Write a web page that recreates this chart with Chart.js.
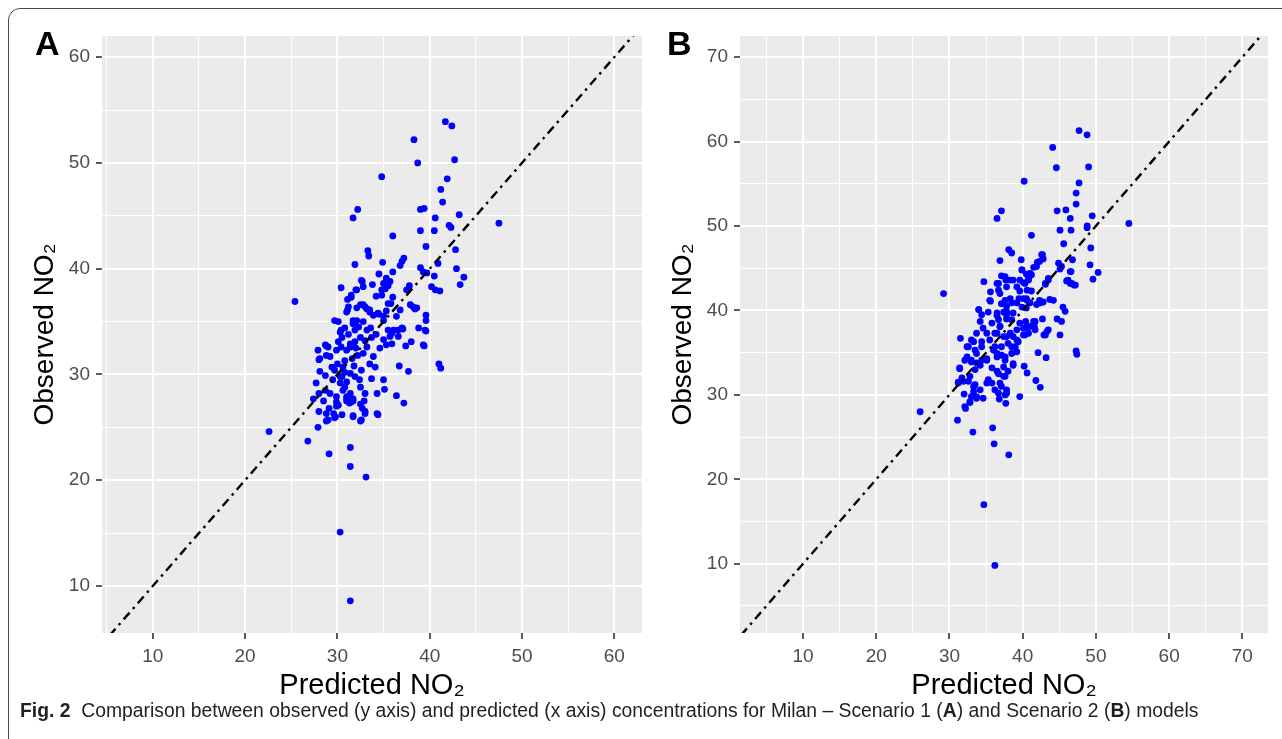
<!DOCTYPE html>
<html>
<head>
<meta charset="utf-8">
<script src="https://cdn.jsdelivr.net/npm/chart.js@4.4.1/dist/chart.umd.min.js"></script>
<style>
  body { margin:0; background:#fff; width:1282px; height:739px; overflow:hidden; position:relative; font-family:"Liberation Sans", Arial, sans-serif; }
  #frame { position:absolute; left:8px; top:8px; width:1300px; height:800px; border:1.5px solid #4a4a4a; border-radius:12px; }
  canvas { position:absolute; top:0; }
  #cA { left:0; }
  #cB { left:640px; }
  .panel { position:absolute; top:26px; font-weight:bold; font-size:34px; line-height:1; color:#000; }
  #caption { position:absolute; left:20px; top:700px; font-family:"Liberation Sans Narrow", "Liberation Sans", sans-serif; font-size:20px; line-height:1; color:#231f20; white-space:nowrap; transform-origin:0 0; }
</style>
</head>
<body>
<div id="frame"></div>
<canvas id="cA" width="650" height="703"></canvas>
<canvas id="cB" width="642" height="703"></canvas>
<div class="panel" style="left:35px">A</div>
<div class="panel" style="left:667px">B</div>
<div id="caption"><b>Fig. 2</b>&nbsp; Comparison between observed (y axis) and predicted (x axis) concentrations for Milan – Scenario 1 (<b>A</b>) and Scenario 2 (<b>B</b>) models</div>

<script>
// axis titles
const xTitle = 'Predicted NO₂';
const yTitle = 'Observed NO₂';

// axis limits
const xRangeA = [4.5, 63.0];
const yRangeA = [5.56, 62.0];
const xRangeB = [1.4, 73.5];
const yRangeB = [1.8, 72.5];

// gridline positions (labels only on the multiples of 10)
const gridVals = [5, 10, 15, 20, 25, 30, 35, 40, 45, 50, 55, 60, 65, 70, 75];

// 1:1 reference line
const refLine = [-10, 100];

// Scenario 1 : [predicted, observed]
const pointsA = [
 [41.7,53.9],[42.4,53.5],[38.3,52.2],[38.7,50.0],[42.7,50.3],[34.8,48.7],[41.9,48.5],[41.2,47.5],[41.4,46.3],
 [32.2,45.6],[31.7,44.8],[39.0,45.6],[39.4,45.7],[40.6,44.8],[43.2,45.1],[47.5,44.3],[39.0,43.6],[40.5,43.6],
 [42.1,44.1],[42.3,43.9],[36.0,43.1],[39.6,42.1],[42.8,41.8],[33.3,41.7],[33.4,41.2],[31.9,40.4],[34.9,40.6],
 [36.8,40.3],[37.0,40.7],[37.2,41.0],[40.9,40.5],[39.0,40.1],[42.9,40.0],[40.5,39.3],[43.7,39.2],[43.3,38.5],
 [40.2,38.3],[40.6,38.0],[41.1,37.9],[36.0,39.7],[34.5,39.5],[35.3,39.1],[35.7,38.8],[35.5,38.4],[35.2,38.1],
 [34.8,38.0],[33.8,38.5],[32.7,38.8],[32.8,38.3],[30.4,38.2],[32.1,38.0],[31.1,37.1],[31.5,37.3],[34.2,37.4],
 [36.0,37.3],[35.8,36.7],[37.8,38.4],[37.5,38.0],[25.4,36.9],[31.1,36.1],[32.1,36.3],[32.8,36.6],[33.2,36.2],
 [33.5,35.9],[35.5,36.7],[35.3,36.0],[34.5,35.7],[35.0,35.5],[37.9,36.6],[38.4,36.2],[36.8,36.1],[36.4,35.5],
 [39.6,35.6],[39.6,35.1],[37.1,34.3],[36.6,34.2],[38.8,34.4],[39.6,34.1],[35.9,33.9],[35.5,34.2],[38.0,33.1],
 [37.4,32.7],[39.4,32.7],[27.9,32.3],[28.8,32.7],
 [39.3,39.7],[39.7,39.6],[35.0,38.6],[34.8,37.5],[32.6,38.9],[32.0,38.0],[31.5,37.5],[38.2,36.4],[38.6,36.3],
 [39.5,34.2],[39.3,32.8],[36.1,34.2],[37.0,34.4],[36.6,33.6],[35.7,33.6],[35.9,32.9],[35.0,33.3],[34.6,32.5],
 [35.3,32.8],[36.4,28.0],[34.3,26.3],
 [31.0,35.9],[31.2,36.4],[32.5,36.6],[33.0,36.4],[33.5,36.1],[33.9,35.6],[34.4,35.8],[35.0,35.1],
 [31.7,35.1],[32.3,34.5],[32.8,35.0],[33.2,34.2],[33.7,33.5],[32.5,33.5],[31.9,33.1],[31.4,32.6],[33.2,32.6],
 [33.9,31.7],[33.5,31.0],[32.6,30.4],[31.9,29.8],[32.5,28.8],[33.0,28.2],[33.7,29.6],[34.1,30.7],[31.7,27.7],
 [32.5,27.2],[33.0,26.5],[31.7,26.0],[32.6,25.7],[34.3,28.2],[30.6,30.7],[30.5,29.8],[30.8,28.8],[31.0,27.9],
 [28.7,32.8],[29.0,32.6],[41.0,31.0],[41.2,30.6],[36.7,30.8],[37.7,30.3],[28.0,31.4],[28.8,31.8],[29.2,31.7],
 [28.1,30.3],[28.7,29.9],[29.4,30.7],[29.7,30.4],[30.3,29.8],[27.7,29.2],[27.4,27.7],[28.0,28.2],[28.5,27.5],
 [28.0,26.5],[28.8,26.3],[28.8,25.6],[27.9,25.0],[29.1,26.8],[29.9,27.4],[29.9,27.0],[29.7,25.9],[30.5,26.2],
 [31.0,27.7],[31.7,27.5],[31.3,27.3],[31.7,26.1],[32.5,25.6],[32.7,26.8],[33.0,26.3],[32.9,27.5],[34.4,26.2],
 [35.0,29.5],[35.1,28.6],[37.2,27.3],[22.6,24.6],[26.8,23.7],[29.1,22.5],[31.4,23.1],[31.4,21.3],[33.1,20.3],
 [30.3,15.1],[31.4,8.6],
 [29.7,35.1],[30.1,35.0],[30.4,34.2],[30.3,34.0],[30.8,34.4],[31.7,34.8],[32.1,35.1],[31.9,34.2],[28.1,31.5],
 [30.1,33.1],[30.4,32.6],[31.0,32.3],[31.4,32.9],[29.9,32.3],[31.4,30.1],[31.0,29.3],[30.3,29.2],[28.7,28.5],
 [29.2,28.2],[29.9,27.9],[30.6,28.5],[31.4,28.2],[31.5,27.4],[31.0,27.5],[29.6,26.3],[30.1,27.1],[29.0,25.7],
 [29.8,26.0],
 [30.0,31.0],[30.8,31.3],[31.6,31.5],[32.2,31.8],[32.8,32.0],[30.5,33.5],[31.2,33.8],[32.0,32.5],[33.0,33.2],
 [31.8,30.8],[32.4,29.5],[30.8,30.2],[29.5,29.5],[33.6,34.4],[34.2,33.8]
];

// Scenario 2 : [predicted, observed]
const pointsB = [
 [47.7,61.3],[48.8,60.8],[44.1,59.3],[44.6,56.9],[49.0,57.0],[40.2,55.3],[47.7,55.1],[47.3,53.9],[47.3,52.6],
 [37.1,51.8],[36.5,50.9],[44.7,51.8],[45.9,51.9],[46.5,50.9],[49.5,51.2],[48.8,50.0],[48.8,49.8],[54.5,50.3],
 [45.1,49.5],[46.6,49.5],[41.2,48.9],[45.6,47.9],[49.3,47.4],[38.1,47.2],[38.5,46.8],[39.8,46.0],[42.7,46.6],
 [42.8,46.1],[42.0,45.7],[41.5,45.1],[36.9,45.9],[46.8,46.0],[44.9,45.6],[45.3,45.2],[45.1,44.9],[49.2,45.4],
 [50.3,44.5],[49.6,43.7],[46.6,44.6],[46.0,43.5],[46.5,43.2],[47.0,43.0],[39.9,44.8],[40.5,44.3],[41.2,44.2],
 [40.8,43.6],[40.1,43.3],[37.1,44.1],[37.7,43.6],[38.7,43.6],[34.7,43.4],[36.7,43.2],[36.7,42.4],[35.6,42.2],
 [35.6,41.1],[29.2,42.0],[39.6,42.3],[41.2,42.3],[40.5,41.4],[39.5,41.4],[43.1,43.1],[43.5,43.6],[42.3,41.2],
 [42.8,41.0],[43.7,41.3],[44.2,41.2],[45.5,40.4],[45.8,39.9],[37.6,41.2],[38.3,41.4],[37.1,40.8],[37.8,40.5],
 [38.5,40.9],[39.2,40.9],[34.0,40.1],[35.3,39.8],[36.5,39.7],[37.8,39.9],[38.7,39.7],
 [42.7,39.0],[44.7,39.0],[45.3,38.7],[40.4,38.7],[40.6,38.1],[40.8,37.3],[40.1,37.1],[41.7,38.7],[41.6,38.1],
 [42.9,37.1],[43.3,37.5],[45.1,37.1],[47.3,35.2],[47.4,34.8],[42.1,35.0],[43.2,34.4],[40.2,33.4],[40.6,32.6],
 [41.8,31.7],[42.4,30.9],[39.6,29.8],[37.7,29.0],[36.8,29.5],[31.5,36.7],[31.4,33.1],[31.2,31.5],[32.2,28.4],
 [31.1,27.0],[32.8,29.1],[32.0,30.1],[26.0,28.0],[33.2,25.6],[35.9,26.1],[36.1,24.2],[38.1,22.9],[34.7,17.0],
 [36.2,9.8],
 [34.0,40.1],[34.2,38.7],[34.6,37.9],[33.7,37.3],[33.0,36.5],[32.6,35.7],[32.4,34.5],[33.0,34.1],
 [33.7,34.9],[34.2,33.5],[33.5,33.0],[32.8,32.2],[31.9,31.6],[33.3,31.0],[34.2,30.6],[35.1,31.4],[34.6,29.6],
 [33.7,29.6],[33.0,29.8],[35.1,34.1],[35.8,33.2],[36.5,34.5],[36.0,35.3],[35.5,36.5],[36.5,37.3],[36.9,38.1],
 [37.8,39.5],[38.5,38.9],[37.8,36.9],[38.5,35.7],[39.2,35.1],[38.7,33.5],[38.0,32.8],[37.4,32.2],[36.9,31.4],
 [37.8,30.6],[37.6,30.0],[36.5,32.8],[36.2,35.7],[37.1,34.7],[37.6,34.1],[36.7,38.9],[35.8,38.5],[35.1,37.3],
 [34.4,36.3],[39.2,37.7],[38.7,36.9],[39.4,36.3],
 [35.5,41.2],[36.9,42.0],[34.4,39.5],[33.3,36.3],[32.4,35.7],
 [33.5,35.3],[34.4,35.7],[32.1,34.1],[33.0,33.9],[33.7,33.8],[34.4,34.1],[35.1,34.3],
 [31.4,33.2],[31.7,32.0],[31.2,31.4],[32.6,31.6],[33.5,31.2],[33.7,29.8],[32.8,29.2],
 [32.1,28.6],[33.3,30.4],[35.3,31.8],[35.8,31.4],[36.2,30.6],[36.7,30.2],
 [42.6,46.6],[42.3,45.8],[41.9,45.2],[41.0,44.4],[40.8,43.8],[40.3,43.2],[39.6,43.6],
 [39.9,44.8],[40.6,42.4],
 [46.5,44.6],[46.2,43.6],[46.7,43.2],[47.2,43.0],[43.5,43.8],[43.1,43.2],
 [37.6,44.0],[38.3,43.6],[36.5,43.2],[37.8,42.8],[39.2,42.8],
 [42.4,40.9],[41.9,40.7],[40.1,41.4],[40.6,41.2],[41.0,40.9],[39.9,40.4],[40.5,40.3],
 [43.5,37.7],[43.1,37.1],[41.5,38.7],[41.0,38.1],[41.7,37.7],[40.1,37.9],[39.6,38.5],[40.3,37.1],
 [36.5,39.4],[37.4,39.8],[37.8,39.0],[36.9,38.1],[36.2,37.3],[37.4,36.9],[38.3,37.3],[38.0,36.1],[37.1,35.7],
 [36.5,34.9],[37.6,34.5],[38.5,34.9],[38.7,33.7],[37.4,33.3],[36.7,32.5],[37.6,32.2],[37.1,31.0],[37.8,30.2],
 [39.0,35.7],[39.2,36.5]
];

// grey ggplot panel behind the grid
const panelBg = {
  id: 'panelBg',
  beforeDraw(chart) {
    const a = chart.chartArea;
    const c = chart.ctx;
    c.save();
    c.fillStyle = '#EBEBEB';
    c.fillRect(a.left, a.top, a.right - a.left, a.bottom - a.top);
    c.restore();
  }
};

const isMajor = v => v % 10 === 0;

function axis(range, title, titleSize, titlePad, size) {
  return {
    type: 'linear',
    min: range[0],
    max: range[1],
    afterBuildTicks: s => {
      s.ticks = gridVals.filter(v => v >= range[0] && v <= range[1]).map(v => ({ value: v }));
    },
    afterFit: s => {
      if (s.isHorizontal()) s.height = size; else s.width = size;
    },
    ticks: {
      autoSkip: false,
      maxRotation: 0,
      padding: 6,
      color: '#4D4D4D',
      font: { family: 'Liberation Sans', size: 19 },
      callback: v => isMajor(v) ? v : ''
    },
    grid: {
      color: '#FFFFFF',
      lineWidth: c => (c.tick && isMajor(c.tick.value)) ? 2 : 1,
      tickColor: c => (c.tick && isMajor(c.tick.value)) ? '#333333' : 'rgba(0,0,0,0)',
      tickLength: 6,
      tickWidth: 1.6
    },
    border: { display: false },
    title: {
      display: true,
      text: title,
      color: '#000',
      font: { family: 'Liberation Sans', size: titleSize },
      padding: titlePad
    }
  };
}

function makePanel(id, pts, xr, yr, yWidth, padRight, yTitlePad) {
  return new Chart(document.getElementById(id), {
    type: 'scatter',
    data: {
      datasets: [
        {
          type: 'line',
          data: refLine.map(v => ({ x: v, y: v })),
          borderColor: '#000',
          borderWidth: 2.4,
          borderDash: [9, 5, 2.5, 5],
          pointRadius: 0,
          fill: false,
          order: 0
        },
        {
          data: pts.map(p => ({ x: p[0], y: p[1] })),
          backgroundColor: '#0000FF',
          borderWidth: 0,
          pointRadius: 3.4,
          order: 1
        }
      ]
    },
    options: {
      responsive: false,
      animation: false,
      devicePixelRatio: 1,
      layout: { padding: { top: 36, right: padRight, left: 0, bottom: 0 } },
      plugins: { legend: { display: false }, tooltip: { enabled: false } },
      scales: {
        x: axis(xr, xTitle, 29, { top: 0, bottom: 0 }, 70),
        y: axis(yr, yTitle, 28, { top: yTitlePad, bottom: 0 }, yWidth)
      }
    },
    plugins: [panelBg]
  });
}

makePanel('cA', pointsA, xRangeA, yRangeA, 102, 8, 28);
makePanel('cB', pointsB, xRangeB, yRangeB, 100, 14, 26);

// squeeze the caption to the width it has in the figure
const cap = document.getElementById('caption');
cap.style.transform = 'scaleX(' + (1178 / cap.offsetWidth) + ')';
</script>
</body>
</html>
